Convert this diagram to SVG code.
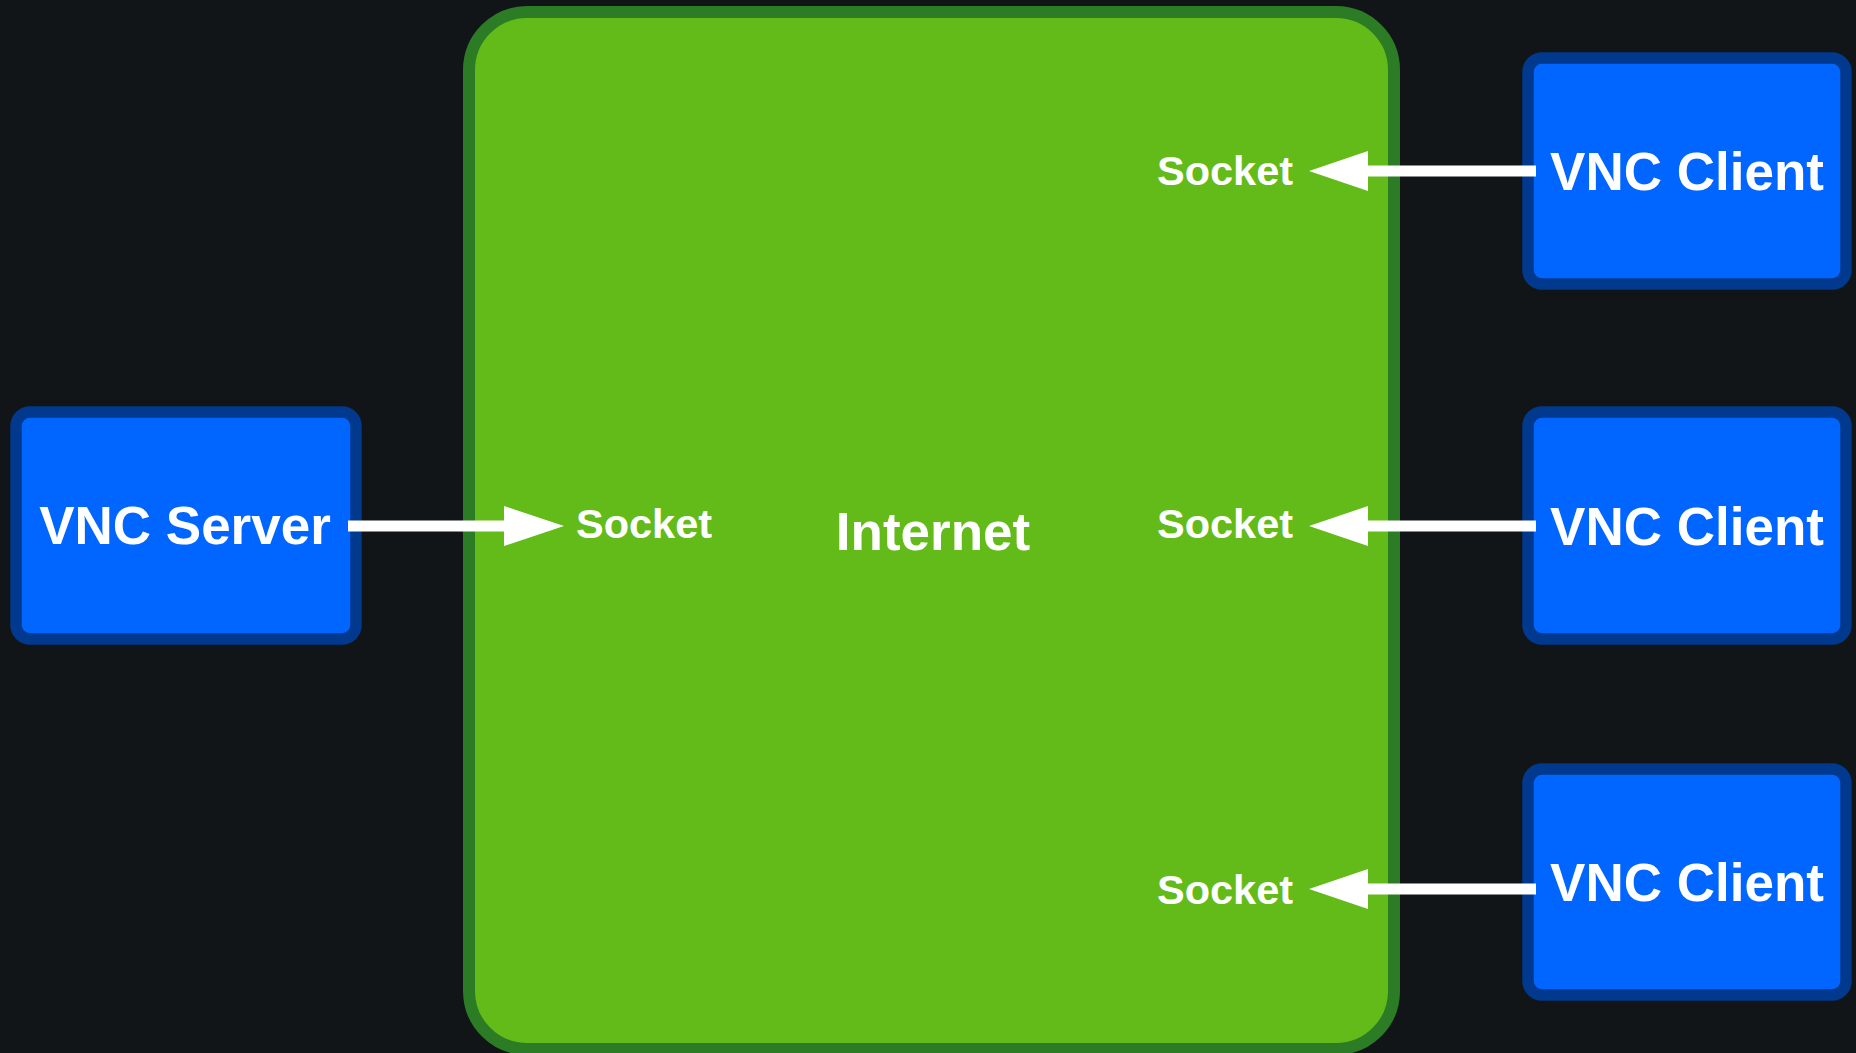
<svg xmlns="http://www.w3.org/2000/svg" width="1856" height="1053" viewBox="0 0 1856 1053">
<defs>
<style>
.bg{fill:#111517}
.net{fill:#63BB19;stroke:#2C7B25;stroke-width:12}
.box{fill:#0066FF;stroke:#00398D;stroke-width:11.5}
.big{font-family:"Liberation Sans",Arial,sans-serif;font-weight:bold;font-size:53px;fill:#FFFFFF;text-anchor:middle}
.sock{font-family:"Liberation Sans",Arial,sans-serif;font-weight:bold;font-size:41.5px;fill:#FFFFFF;text-anchor:middle}
.edge{stroke:#FFFFFF;stroke-width:11;fill:none}
.head{fill:#FFFFFF}
</style>
</defs>
<rect class="bg" x="0" y="0" width="1856" height="1053"/>
<g id="internet">
<rect class="net" x="469" y="12" width="925" height="1037" rx="58" ry="58"/>
<text class="big" x="933" y="550">Internet</text>
</g>
<g id="vnc-server">
<rect class="box" x="16" y="412" width="340" height="227" rx="14" ry="14"/>
<text class="big" x="185" y="543.5">VNC Server</text>
</g>
<g id="vnc-client-1">
<rect class="box" x="1528" y="58" width="318" height="226" rx="14" ry="14"/>
<text class="big" x="1687" y="190">VNC Client</text>
</g>
<g id="vnc-client-2">
<rect class="box" x="1528" y="412" width="318" height="227" rx="14" ry="14"/>
<text class="big" x="1687" y="544.5">VNC Client</text>
</g>
<g id="vnc-client-3">
<rect class="box" x="1528" y="769" width="318" height="226" rx="14" ry="14"/>
<text class="big" x="1687" y="901">VNC Client</text>
</g>
<g id="connectors">
<line class="edge" x1="348" y1="526" x2="506" y2="526"/>
<polygon class="head" points="504,506 564,526 504,546"/>
<text class="sock" x="644" y="538">Socket</text>
<line class="edge" x1="1536" y1="171" x2="1366" y2="171"/>
<polygon class="head" points="1368,151 1309,171 1368,191"/>
<text class="sock" x="1225" y="185">Socket</text>
<line class="edge" x1="1536" y1="526" x2="1366" y2="526"/>
<polygon class="head" points="1368,506 1309,526 1368,546"/>
<text class="sock" x="1225" y="538">Socket</text>
<line class="edge" x1="1536" y1="889" x2="1366" y2="889"/>
<polygon class="head" points="1368,869 1309,889 1368,909"/>
<text class="sock" x="1225" y="903.5">Socket</text>
</g>
</svg>
